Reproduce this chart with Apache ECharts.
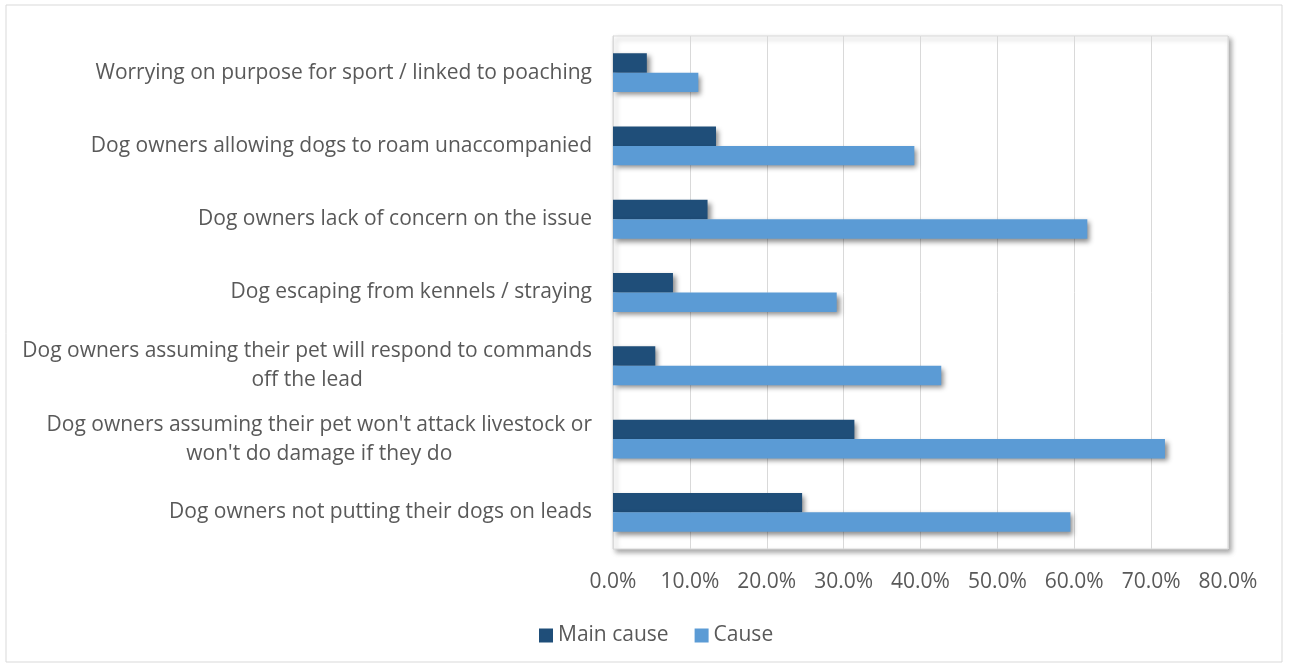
<!DOCTYPE html>
<html>
<head>
<meta charset="utf-8">
<script src="https://cdn.jsdelivr.net/npm/echarts@6/dist/echarts.min.js"></script>
<style>
  html, body { margin: 0; padding: 0; background: #fff; }
  #main { width: 1289px; height: 668px; }
</style>
</head>
<body>
<div id="main"></div>
<script>
// categories, top to bottom
var categories = [
  "Worrying on purpose for sport / linked to poaching",
  "Dog owners allowing dogs to roam unaccompanied",
  "Dog owners lack of concern on the issue",
  "Dog escaping from kennels / straying",
  "Dog owners assuming their pet will respond to commands\noff the lead",
  "Dog owners assuming their pet won't attack livestock or\nwon't do damage if they do",
  "Dog owners not putting their dogs on leads"
];
var mainCause = [4.4, 13.4, 12.3, 7.8, 5.5, 31.4, 24.6];
var cause = [11.1, 39.2, 61.7, 29.1, 42.7, 71.8, 59.5];
var xTicks = [0, 10, 20, 30, 40, 50, 60, 70, 80];

var FONT = '"Open Sans"';
var FS = 21;
var TXT = '#595959';

// measure text so wrapped second lines can be centred under the first
var ctx = document.createElement('canvas').getContext('2d');
ctx.font = FS + 'px ' + FONT;
function tw(s) { return ctx.measureText(s).width; }

var rich = {};
categories.forEach(function (c, i) {
  var p = c.split('\n');
  if (p.length > 1) {
    var pad = Math.max(0, (tw(p[0]) - tw(p[1])) / 2);
    rich['l' + i] = { fontSize: FS, fontFamily: FONT, color: TXT, lineHeight: 29, padding: [0, pad, 0, 0] };
  }
});

var chart = echarts.init(document.getElementById('main'));

var shadow = {
  shadowColor: 'rgba(0,0,0,0.45)',
  shadowBlur: 5,
  shadowOffsetX: 3,
  shadowOffsetY: 3
};

chart.setOption({
  backgroundColor: '#fff',
  animation: false,
  textStyle: { fontFamily: FONT },
  graphic: [{
    type: 'rect',
    shape: { x: 6, y: 5, width: 1276, height: 657 },
    style: { fill: 'none', stroke: '#d9d9d9', lineWidth: 1 },
    silent: true
  }],
  grid: {
    left: 613, right: 61, top: 36, bottom: 119,
    show: true,
    backgroundColor: '#fff',
    borderColor: '#d9d9d9',
    borderWidth: 1,
    shadowColor: 'rgba(0,0,0,0.35)',
    shadowBlur: 5,
    shadowOffsetX: 3,
    shadowOffsetY: 3
  },
  legend: {
    top: 620,
    left: 534,
    itemWidth: 14,
    itemHeight: 14,
    itemGap: 26,
    icon: 'rect',
    textStyle: { fontSize: FS, color: TXT, fontFamily: FONT },
    data: ['Main cause', 'Cause']
  },
  xAxis: {
    type: 'value',
    min: xTicks[0],
    max: xTicks[xTicks.length - 1],
    interval: 10,
    axisLine: { show: false },
    axisTick: { show: false },
    splitLine: { lineStyle: { color: '#d9d9d9', width: 1 } },
    axisLabel: {
      margin: 23,
      fontSize: FS,
      color: TXT,
      formatter: function (v) { return v.toFixed(1) + '%'; }
    }
  },
  yAxis: {
    type: 'category',
    inverse: true,
    data: categories,
    axisLine: { show: true, lineStyle: { color: '#d9d9d9' } },
    axisTick: { show: false },
    axisLabel: {
      margin: 21,
      fontSize: FS,
      color: TXT,
      lineHeight: 29,
      formatter: function (v, i) {
        var parts = v.split('\n');
        if (parts.length < 2) return v;
        return parts[0] + '\n{l' + i + '|' + parts[1] + '}';
      },
      rich: rich
    }
  },
  series: [
    {
      name: 'Main cause',
      type: 'bar',
      data: mainCause,
      barGap: 0,
      barCategoryGap: '47%',
      itemStyle: Object.assign({ color: '#1f4e79' }, shadow)
    },
    {
      name: 'Cause',
      type: 'bar',
      data: cause,
      barGap: 0,
      barCategoryGap: '47%',
      itemStyle: Object.assign({ color: '#5b9bd5' }, shadow)
    }
  ]
});
</script>
</body>
</html>
